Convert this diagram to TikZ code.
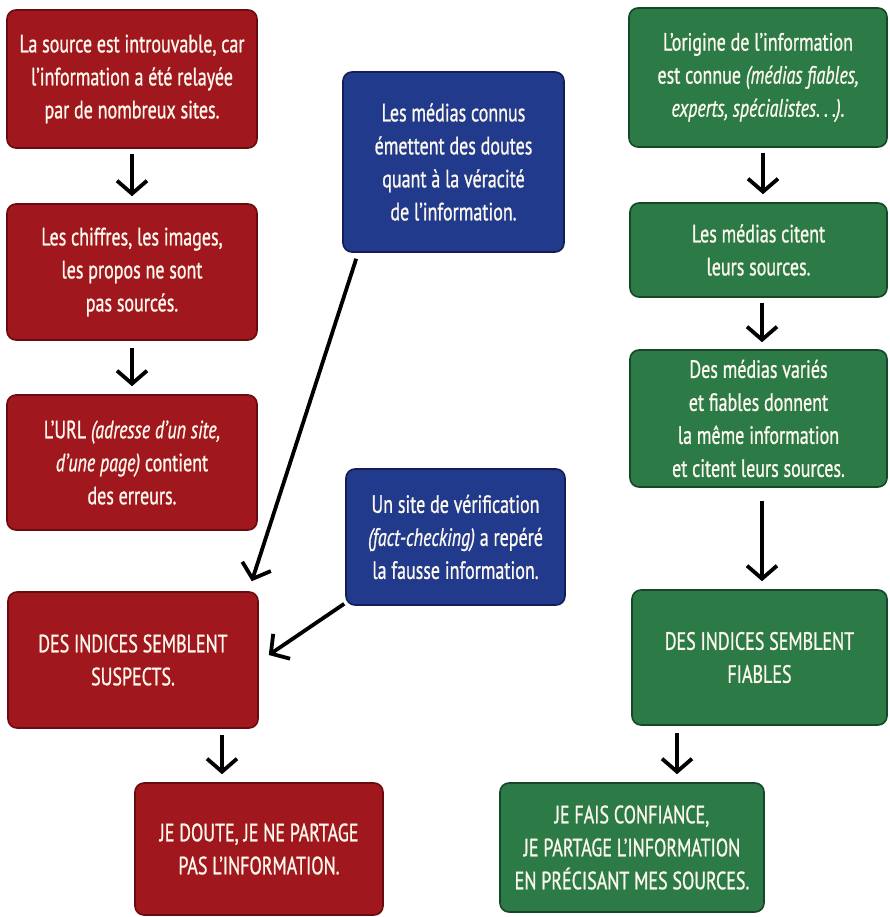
\documentclass[tikz,border=0pt]{standalone}
\usepackage{fontspec}
\setmainfont{PT Sans}[FakeStretch=0.72, FakeBold=0.9]
\usetikzlibrary{arrows.meta}
\definecolor{rd}{RGB}{160,24,30}
\definecolor{rdb}{RGB}{105,12,16}
\definecolor{bl}{RGB}{33,58,140}
\definecolor{blb}{RGB}{18,30,85}
\definecolor{gr}{RGB}{44,122,70}
\definecolor{grb}{RGB}{20,72,38}
\definecolor{txt}{RGB}{252,248,238}
\begin{document}
\begin{tikzpicture}[x=1pt,y=-1pt,
  box/.style={rectangle, rounded corners=9pt, line width=1.6pt, text=txt,
    align=center, inner sep=0pt, font=\fontsize{25}{33}\selectfont},
  redbox/.style={box, fill=rd, draw=rdb},
  bluebox/.style={box, fill=bl, draw=blb},
  greenbox/.style={box, fill=gr, draw=grb},
  arr/.style={line width=3.8pt, draw=black,
    -{Straight Barb[length=13pt,width=30pt,line width=3.8pt]}}
]
\useasboundingbox (0,0) rectangle (889,917);
\fill[white] (0,0) rectangle (889,917);

% left column
\node[redbox, minimum width=250pt, minimum height=138pt] (r1) at (132,79)
  {La source est introuvable, car\\l’information a été relayée\\par de nombreux sites.};
\node[redbox, minimum width=250pt, minimum height=136pt] (r2) at (132,272)
  {Les chiffres, les images,\\les propos ne sont\\pas sourcés.};
\node[redbox, minimum width=250pt, minimum height=135pt] (r3) at (132,462.5)
  {L’URL \textit{(adresse d’un site,}\\\textit{d’une page)} contient\\des erreurs.};
\node[redbox, minimum width=250pt, minimum height=136pt] (r4) at (133,660)
  {DES INDICES SEMBLENT\\SUSPECTS.};
\node[redbox, minimum width=248pt, minimum height=132pt] (r5) at (259,849)
  {JE DOUTE, JE NE PARTAGE\\PAS L’INFORMATION.};

% blue boxes
\node[bluebox, minimum width=221pt, minimum height=180pt] (b1) at (453.5,162)
  {Les médias connus\\émettent des doutes\\quant à la véracité\\de l’information.};
\node[bluebox, minimum width=219pt, minimum height=136pt] (b2) at (455.5,537)
  {Un site de vérification\\\textit{(fact-checking)} a repéré\\la fausse information.};

% right column
\node[greenbox, minimum width=258pt, minimum height=139pt] (g1) at (758,77.5)
  {L’origine de l’information\\est connue \textit{(médias fiables,}\\\textit{experts, spécialistes.\,.\,.).}};
\node[greenbox, minimum width=257pt, minimum height=94pt] (g2) at (758.5,250)
  {Les médias citent\\leurs sources.};
\node[greenbox, minimum width=257pt, minimum height=137pt] (g3) at (758.5,418.5)
  {Des médias variés\\et fiables donnent\\la même information\\et citent leurs sources.};
\node[greenbox, minimum width=255pt, minimum height=135pt] (g4) at (759.5,657.5)
  {DES INDICES SEMBLENT\\FIABLES};
\node[greenbox, minimum width=264pt, minimum height=129pt] (g5) at (632,847.5)
  {JE FAIS CONFIANCE,\\JE PARTAGE L’INFORMATION\\EN PRÉCISANT MES SOURCES.};

% connectors
\draw[arr, shorten <=5pt, shorten >=7pt] (r1) -- (r2);
\draw[arr, shorten <=7pt, shorten >=8pt] (r2) -- (r3);
\draw[arr] ([xshift=89pt,yshift=-6pt]r4.south) -- ([xshift=-37pt,yshift=8pt]r5.north);
\draw[arr] ([xshift=14pt,yshift=-6pt]b1.south west) -- ([xshift=-7pt,yshift=10pt]r4.north east);
\draw[arr] ([xshift=-1pt,yshift=2pt]b2.south west) -- ([xshift=10pt,yshift=5pt]r4.east);
\draw[arr] ([xshift=5pt,yshift=-5pt]g1.south) -- ([xshift=4.5pt,yshift=8pt]g2.north);
\draw[arr] ([xshift=3.5pt,yshift=-5pt]g2.south) -- ([xshift=3.5pt,yshift=7pt]g3.north);
\draw[arr] ([xshift=3.5pt,yshift=-13pt]g3.south) -- ([xshift=2.5pt,yshift=8pt]g4.north);
\draw[arr] ([xshift=-82.5pt,yshift=-7pt]g4.south) -- ([xshift=45pt,yshift=8pt]g5.north);
\end{tikzpicture}
\end{document}
